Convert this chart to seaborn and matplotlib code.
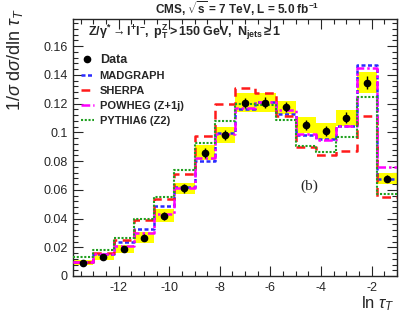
import numpy as np
import pandas as pd
import seaborn as sns
import matplotlib
matplotlib.use('Agg')
import matplotlib.pyplot as plt
from matplotlib.lines import Line2D
from matplotlib.ticker import MultipleLocator, AutoMinorLocator

# bin edges in ln(tau_T), 16 bins of width 0.8
edges = [round(-13.8 + 0.8*i, 2) for i in range(17)]
centers = [round(e + 0.4, 2) for e in edges[:-1]]

# unfolded data, stat error and systematic band (half height)
data = [0.0093, 0.0130, 0.0188, 0.0267, 0.0420, 0.0610, 0.0858, 0.0980,
        0.1206, 0.1206, 0.1173, 0.1048, 0.1009, 0.1100, 0.1345, 0.0677]
stat = [0.0012, 0.0015, 0.0018, 0.0022, 0.0028, 0.0030, 0.0035, 0.0035,
        0.0035, 0.0038, 0.0035, 0.0035, 0.0035, 0.0038, 0.0045, 0.0023]
syst = [0.0018, 0.0019, 0.0027, 0.0040, 0.0046, 0.0038, 0.0052, 0.0058,
        0.0064, 0.0065, 0.0045, 0.0055, 0.0055, 0.0057, 0.0075, 0.0037]

# generator predictions
madgraph = [0.0100, 0.0153, 0.0239, 0.0325, 0.0487, 0.0617, 0.0800, 0.0997,
            0.1162, 0.1208, 0.1130, 0.0980, 0.0950, 0.1046, 0.1468, 0.0677]
sherpa = [0.0100, 0.0162, 0.0250, 0.0390, 0.0534, 0.0708, 0.0974, 0.1200,
          0.1306, 0.1275, 0.1113, 0.0900, 0.0842, 0.0872, 0.1113, 0.0547]
powheg = [0.0095, 0.0150, 0.0210, 0.0300, 0.0430, 0.0610, 0.0820, 0.0990,
          0.1170, 0.1213, 0.1155, 0.0988, 0.0946, 0.1046, 0.1445, 0.0756]
pythia = [0.0130, 0.0180, 0.0267, 0.0394, 0.0548, 0.0737, 0.0923, 0.1080,
          0.1194, 0.1190, 0.1085, 0.0904, 0.0865, 0.0970, 0.1243, 0.0568]

df = pd.DataFrame({'x': centers, 'data': data, 'stat': stat, 'syst': syst,
                   'madgraph': madgraph, 'sherpa': sherpa,
                   'powheg': powheg, 'pythia': pythia})

sns.set_style('ticks')
plt.rcParams['font.family'] = ['Liberation Sans', 'DejaVu Sans']
plt.rcParams['mathtext.fontset'] = 'custom'
plt.rcParams['mathtext.rm'] = 'Liberation Sans'
plt.rcParams['mathtext.it'] = 'Liberation Sans:italic'
plt.rcParams['mathtext.bf'] = 'Liberation Sans:bold'

fig = plt.figure(figsize=(4.07, 3.22), dpi=100)
ax = fig.add_axes([73/407, 46/322, 324/407, 257/322])

# systematic band
ax.bar(df['x'], 2*df['syst'], bottom=df['data']-df['syst'], width=0.8,
       color='#ffff00', linewidth=0, zorder=1)

styles = [
    ('madgraph', 'MADGRAPH', '#2b2bff', (1.6, 1.0), 1.8),
    ('sherpa', 'SHERPA', '#ff1a1a', (3.5, 2.2), 1.8),
    ('powheg', 'POWHEG (Z+1j)', '#ff00ff', (3.5, 1.2, 1.0, 1.2), 1.8),
    ('pythia', 'PYTHIA6 (Z2)', '#1fa01f', (1.0, 0.8), 1.5),
]
handles = [Line2D([], [], color='black', marker='o', markersize=4.5,
                  linestyle='none')]
labels = ['Data']
for col, lab, c, d, lw in styles:
    sns.histplot(x=df['x'], weights=df[col], bins=edges, element='step',
                 fill=False, color=c, dashes=d, linewidth=lw, ax=ax, zorder=3)
    handles.append(Line2D([], [], color=c, dashes=d, linewidth=lw))
    labels.append(lab)

ax.errorbar(df['x'], df['data'], yerr=df['stat'], fmt='o', color='black',
            markersize=4.5, elinewidth=1.0, capsize=0, zorder=5)

ax.set_xlim(-13.8, -1.0)
ax.set_ylim(0, 0.1788)
ax.set_xlabel('')
ax.set_ylabel('')
ax.xaxis.set_major_locator(MultipleLocator(2))
ax.xaxis.set_minor_locator(AutoMinorLocator(4))
ax.yaxis.set_major_locator(MultipleLocator(0.02))
ax.yaxis.set_minor_locator(AutoMinorLocator(5))
ax.set_yticks([0, 0.02, 0.04, 0.06, 0.08, 0.1, 0.12, 0.14, 0.16])
ax.set_yticklabels(['0', '0.02', '0.04', '0.06', '0.08', '0.1', '0.12', '0.14', '0.16'])
ax.set_xticks([-12, -10, -8, -6, -4, -2])
ax.set_xticklabels(['-12', '-10', '-8', '-6', '-4', '-2'])
ax.tick_params(which='both', direction='in', top=True, right=True,
               labelsize=9, width=0.8)
ax.tick_params(which='major', length=7, pad=4)
ax.tick_params(which='minor', length=3.5)
for s in ax.spines.values():
    s.set_linewidth(1.0)

leg = ax.legend(handles, labels, loc='upper left', bbox_to_anchor=(0.0, 0.895),
                frameon=False, fontsize=8, handlelength=1.2, handletextpad=0.5,
                labelspacing=0.45, borderaxespad=0.3)
for i, t in enumerate(leg.get_texts()):
    t.set_fontweight('bold')
    if i == 0:
        t.set_fontsize(9)

ax.text(0.046, 0.949,
        r'$\mathbf{Z/\gamma^{*}\rightarrow l^{+}l^{-},\ p_{T}^{Z} > 150\ GeV,\ N_{jets}\geq 1}$',
        transform=ax.transAxes, fontsize=9, ha='left', va='center')
ax.text(0.728, 0.35, '(b)', transform=ax.transAxes, fontsize=11,
        family='Liberation Serif', ha='center', va='center')

fig.text(237/407, 1-9/322, r'CMS, $\mathbf{\sqrt{s}}$ = 7 TeV, L = 5.0 fb$^{\mathbf{-1}}$',
         fontsize=8.5, fontweight='bold', ha='center', va='center')
fig.text(15/407, 1-8/322, r'1/$\sigma$ d$\sigma$/dln $\tau_{T}$', fontsize=13,
         rotation=90, ha='center', va='top')
fig.text(395/407, 1-304/322, r'ln $\tau_{T}$', fontsize=12, ha='right', va='center')

fig.savefig('out.png', dpi=100)
